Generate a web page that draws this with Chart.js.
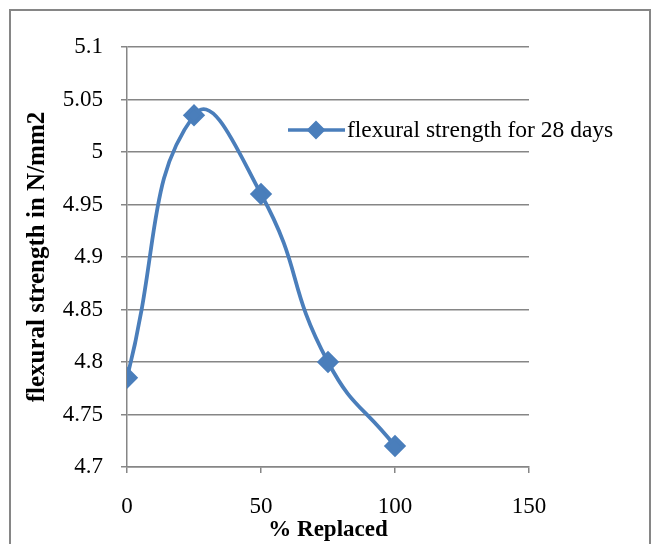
<!DOCTYPE html>
<html>
<head>
<meta charset="utf-8">
<script src="https://cdn.jsdelivr.net/npm/chart.js@4/dist/chart.umd.min.js"></script>
<style>
  html, body { margin: 0; padding: 0; background: #fff; }
  #wrap { width: 653px; height: 544px; }
</style>
</head>
<body>
<div id="wrap"><canvas id="chart1"></canvas></div>
<script>
// data
const replaced = [0, 25, 50, 75, 100];
const strength = [4.785, 5.035, 4.96, 4.8, 4.72];
const seriesName = `flexural strength for 28 days`;

const blue = `#4A7EBB`;
const gray = `#868686`;
const serif = `"Liberation Serif", "Times New Roman", serif`;

// white page with the grey frame around the chart
const frame = {
  id: `frame`,
  beforeDraw(chart) {
    const ctx = chart.ctx;
    ctx.save();
    ctx.fillStyle = `#fff`;
    ctx.fillRect(0, 0, chart.width, chart.height);
    ctx.strokeStyle = gray;
    ctx.lineWidth = 2;
    ctx.strokeRect(10, 10, 640, 560);
    ctx.restore();
  }
};

// legend sits inside the plot, to the right of the peak
const floatLegend = {
  id: `floatLegend`,
  afterDraw(chart) {
    const ctx = chart.ctx;
    const y = 130;
    ctx.save();
    ctx.strokeStyle = blue;
    ctx.lineWidth = 3.5;
    ctx.beginPath();
    ctx.moveTo(288, y);
    ctx.lineTo(345, y);
    ctx.stroke();
    Chart.helpers.drawPoint(ctx, { pointStyle: `rectRot`, radius: 7, borderWidth: 1 }, 316, y);
    ctx.fillStyle = blue;
    ctx.fill();
    ctx.fillStyle = `#000`;
    ctx.font = `23.5px ${serif}`;
    ctx.textBaseline = `middle`;
    ctx.fillText(seriesName, 347, y + 1);
    ctx.restore();
  }
};

new Chart(document.getElementById(`chart1`), {
  type: `line`,
  data: {
    datasets: [{
      label: seriesName,
      data: replaced.map((x, i) => ({ x: x, y: strength[i] })),
      borderColor: blue,
      backgroundColor: blue,
      borderWidth: 3.8,
      tension: 0.5,
      pointStyle: `rectRot`,
      pointRadius: 8.5,
      pointHoverRadius: 8.5,
      pointBackgroundColor: blue,
      pointBorderColor: blue
    }]
  },
  options: {
    responsive: true,
    maintainAspectRatio: false,
    animation: false,
    devicePixelRatio: 1,
    layout: { padding: { top: 47, right: 124, left: 0, bottom: 0 } },
    plugins: {
      legend: { display: false },
      tooltip: { enabled: false }
    },
    scales: {
      x: {
        type: `linear`,
        min: 0,
        max: 150,
        afterFit: s => { s.height = 77; },
        ticks: { stepSize: 50, color: `#000`, padding: 20, font: { family: serif, size: 23 } },
        grid: { drawOnChartArea: false, drawTicks: true, tickLength: 6, color: gray, lineWidth: 1.5 },
        border: { color: gray, width: 1.5 },
        title: {
          display: true,
          text: `% Replaced`,
          color: `#000`,
          padding: { top: 0, bottom: 0 },
          font: { family: serif, size: 23, weight: `bold` }
        }
      },
      y: {
        min: 4.7,
        max: 5.1,
        afterFit: s => { s.width = 127; },
        ticks: {
          stepSize: 0.05,
          color: `#000`,
          padding: 18,
          font: { family: serif, size: 23 },
          callback: v => +v.toFixed(2)
        },
        grid: { drawTicks: true, tickLength: 6, color: gray, lineWidth: 1.5 },
        border: { color: gray, width: 1.5 },
        title: {
          display: true,
          text: `flexural strength in N/mm2`,
          color: `#000`,
          padding: { top: 23, bottom: 0 },
          font: { family: serif, size: 25, weight: `bold` }
        }
      }
    }
  },
  plugins: [frame, floatLegend]
});
</script>
</body>
</html>
